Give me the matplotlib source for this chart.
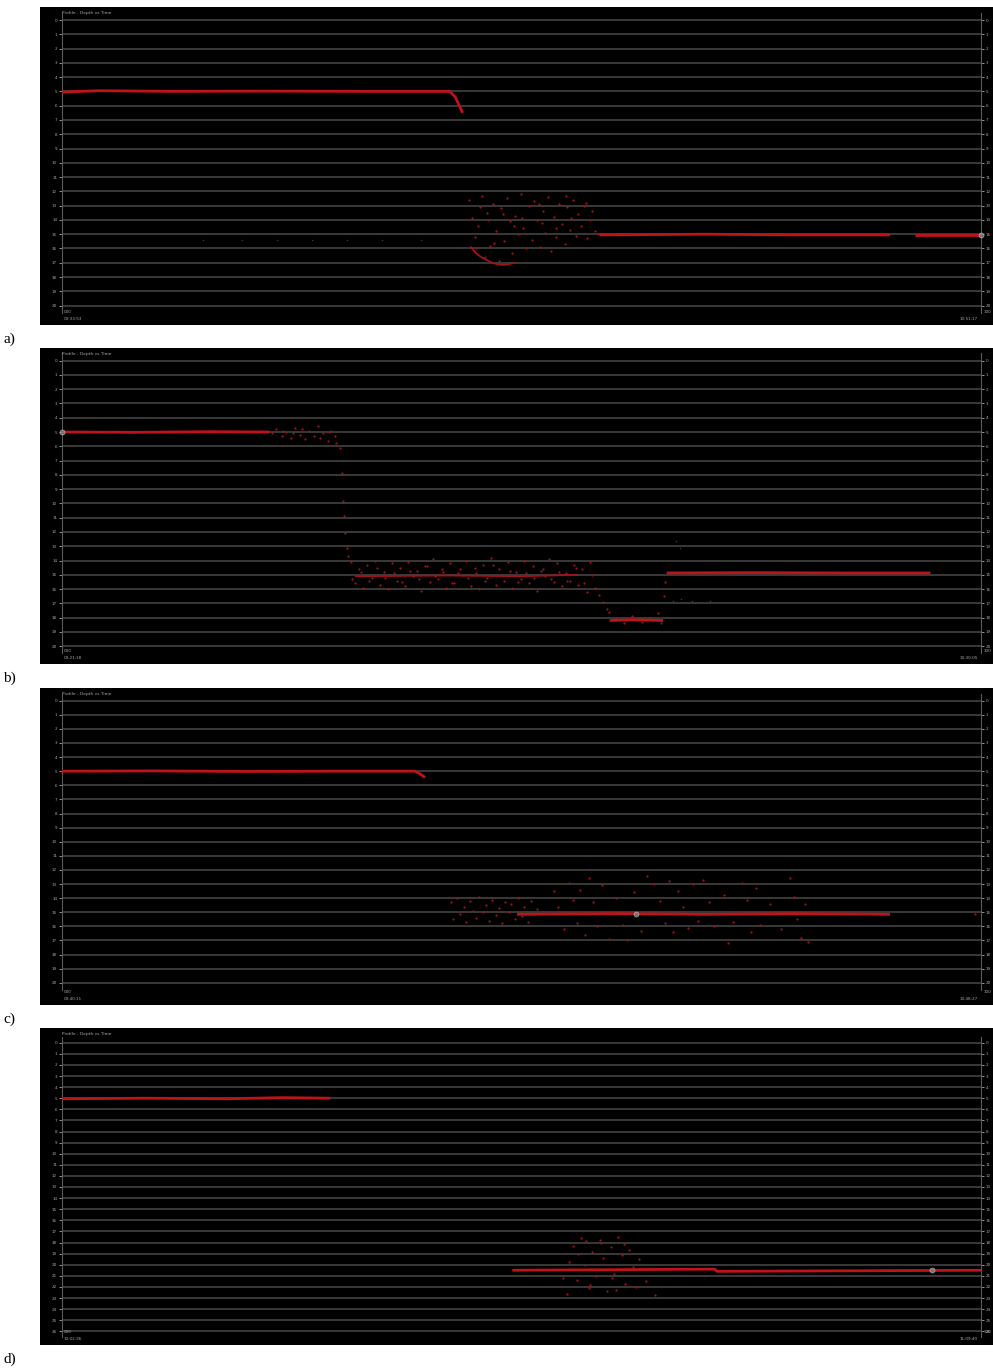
import matplotlib
matplotlib.use("Agg")
import matplotlib.pyplot as plt

W, H = 993, 1370

# ---------------- data (time in % of record, depth in grid units) ----------------
# panel a
a_top_t = [0.0, 4.0, 12.0, 22.0, 33.0, 42.2]
a_top_d = [5.05, 4.95, 5.0, 4.98, 5.0, 5.0]
a_drop_t = [42.2, 42.8, 43.3, 43.6]
a_drop_d = [5.0, 5.4, 6.1, 6.5]
a_streak_t = [44.5, 45.0, 45.6, 46.2, 46.8, 47.4, 48.0, 48.6, 49.2]
a_streak_d = [15.9, 16.3, 16.6, 16.8, 17.0, 17.1, 17.15, 17.1, 17.0]
a_cloud_t = [44.3, 44.6, 44.9, 45.0, 45.3, 45.7, 46.0, 46.2, 46.6, 46.9, 47.2, 47.5,
             47.8, 48.1, 48.4, 48.7, 49.0, 49.3, 49.6, 49.9, 50.2, 50.5, 50.8, 51.1,
             51.4, 51.7, 52.0, 52.3, 52.6, 52.9, 53.2, 53.5, 53.8, 54.1, 54.4, 54.7,
             55.0, 55.3, 55.6, 55.9, 56.2, 56.5, 56.8, 57.1, 57.4, 57.7, 58.0, 58.3,
             46.4, 48.0, 50.0, 51.9, 53.7, 55.4, 47.0, 49.2, 52.2, 54.8, 57.0, 45.5]
a_cloud_d = [12.6, 13.9, 15.2, 16.0, 14.4, 12.3, 16.6, 13.5, 15.8, 12.9, 14.8, 16.9,
             13.2, 15.5, 12.5, 14.1, 16.3, 13.7, 15.0, 12.2, 14.6, 16.0, 13.0, 15.4,
             12.7, 14.0, 15.9, 13.4, 14.9, 12.4, 16.2, 13.8, 15.2, 12.9, 14.3, 15.7,
             13.1, 14.7, 12.6, 15.1, 13.6, 14.4, 13.0, 15.3, 14.0, 13.4, 14.8, 15.0,
             14.0, 13.6, 13.9, 12.9, 14.6, 13.9, 15.6, 14.4, 14.2, 12.3, 12.8, 13.1]
a_low1_t = [58.5, 70.0, 80.0, 90.1]
a_low1_d = [15.05, 15.0, 15.05, 15.05]
a_low2_t = [92.8, 100.0]
a_low2_d = [15.05, 15.05]
a_faint_t = [15.3, 19.6, 23.4, 27.2, 31.0, 34.8, 39.1]
a_faint_d = [15.4, 15.4, 15.4, 15.4, 15.4, 15.4, 15.4]

# panel b
b_top_t = [0.0, 8.0, 16.0, 22.6]
b_top_d = [5.0, 5.02, 4.98, 5.0]
b_surf_t = [22.8, 23.3, 23.9, 24.4, 24.9, 25.4, 25.9, 26.4, 26.9, 27.4, 27.9, 28.4,
            28.9, 29.3, 29.7, 24.1, 26.1, 28.1, 29.0, 25.1]
b_surf_d = [5.1, 4.8, 5.3, 5.0, 5.4, 4.7, 5.2, 5.5, 4.9, 5.3, 4.6, 5.1,
            5.6, 4.9, 5.3, 4.9, 4.8, 5.4, 5.0, 5.1]
b_drop_t = [29.8, 30.2, 30.5, 30.6, 30.7, 30.8, 31.0, 31.1]
b_drop_d = [5.8, 6.1, 7.9, 9.8, 10.9, 12.1, 13.1, 13.7]
b_cloud_t = [31.4, 31.9, 32.3, 32.8, 33.2, 33.7, 34.1, 34.6, 35.0, 35.5, 35.9, 36.4,
             36.8, 37.3, 37.7, 38.2, 38.6, 39.1, 39.5, 40.0, 40.4, 40.9, 41.3, 41.8,
             42.2, 42.7, 43.1, 43.6, 44.0, 44.5, 44.9, 45.4, 45.8, 46.3, 46.7, 47.2,
             47.6, 48.1, 48.5, 49.0, 49.4, 49.9, 50.3, 50.8, 51.2, 51.7, 52.1, 52.6,
             53.0, 53.5, 53.9, 54.4, 54.8, 55.3, 55.7, 56.2, 56.6, 57.1, 57.5, 58.0]
b_cloud_d = [14.1, 15.6, 14.6, 15.9, 14.3, 15.2, 14.0, 15.7, 14.8, 16.0, 14.2, 15.4,
             14.5, 15.8, 14.1, 15.1, 14.7, 16.1, 14.4, 15.5, 13.9, 15.3, 14.6, 15.9,
             14.2, 15.6, 14.9, 15.0, 14.0, 15.8, 14.5, 16.0, 14.3, 15.2, 13.8, 15.7,
             14.6, 15.4, 14.1, 15.9, 14.8, 15.3, 14.0, 15.6, 14.4, 16.1, 14.7, 15.1,
             13.9, 15.5, 14.2, 15.8, 14.9, 15.4, 14.3, 15.7, 14.6, 16.2, 14.1, 15.9]
b_band_t = [31.6, 32.5, 33.4, 34.3, 35.2, 36.1, 37.0, 37.9, 38.8, 39.7, 40.6, 41.5,
            42.4, 43.3, 44.2, 45.1, 46.0, 46.9, 47.8, 48.7, 49.6, 50.5, 51.4, 52.3,
            53.2, 54.1, 55.0, 55.9, 56.8, 57.7]
b_band_d = [15.3, 14.8, 15.4, 14.5, 15.2, 14.9, 15.5, 14.7, 15.3, 14.4, 15.1, 14.8,
            15.6, 14.6, 15.2, 14.9, 15.4, 14.3, 15.0, 14.7, 15.5, 14.9, 15.2, 14.6,
            15.3, 14.8, 15.4, 14.5, 15.6, 15.0]
b_mid_t = [32.0, 42.0, 50.0, 56.0]
b_mid_d = [15.1, 15.05, 15.1, 15.0]
b_deep_t = [58.4, 58.9, 59.3, 59.5, 60.3, 61.2, 62.0, 63.1, 64.0, 64.8, 65.2, 65.5, 65.6]
b_deep_d = [16.4, 16.9, 17.4, 17.6, 18.0, 18.4, 17.9, 18.3, 18.0, 17.7, 18.4, 16.5, 15.5]
b_deepline_t = [59.6, 62.0, 65.4]
b_deepline_d = [18.2, 18.15, 18.2]
b_stray_t = [66.5, 67.4, 68.5, 69.6, 70.5, 66.8, 67.2]
b_stray_d = [16.8, 16.7, 16.8, 16.9, 16.8, 12.6, 13.1]
b_end_t = [65.8, 75.0, 85.0, 94.5]
b_end_d = [14.87, 14.85, 14.87, 14.87]

# panel c
c_top_t = [0.0, 10.0, 20.0, 30.0, 38.4, 39.0, 39.5]
c_top_d = [5.0, 4.98, 5.02, 5.0, 5.0, 5.2, 5.45]
c_cloud_t = [42.3, 42.6, 43.0, 43.3, 43.7, 44.0, 44.4, 44.7, 45.1, 45.4, 45.8, 46.1,
             46.5, 46.8, 47.2, 47.5, 47.9, 48.2, 48.6, 48.9, 49.3, 49.6, 50.0, 50.3,
             50.7, 51.0, 51.4, 51.7,
             53.5, 54.0, 54.6, 55.2, 55.6, 56.0, 56.4, 56.9, 57.3, 57.8, 58.2, 58.8,
             59.5, 60.3, 61.0, 62.2, 63.0, 64.4, 65.1, 65.6, 66.0, 66.5, 67.0, 67.6,
             68.1, 68.7, 69.2, 69.8, 70.4, 71.0, 72.0, 73.0, 74.0, 74.5, 75.0, 75.5,
             76.0, 77.0, 78.2, 79.2, 79.6, 80.0, 80.4, 80.8, 81.2, 61.5, 72.5, 63.7]
c_cloud_d = [14.3, 15.5, 14.0, 15.1, 14.6, 15.7, 14.2, 14.9, 15.4, 13.9, 15.0, 14.5,
             15.6, 14.1, 15.2, 14.7, 15.8, 14.3, 15.0, 14.4, 15.5, 14.0, 15.3, 14.6,
             15.7, 14.2, 15.1, 14.8,
             13.5, 14.6, 16.2, 12.9, 14.1, 15.8, 13.4, 16.6, 12.6, 14.3, 16.0, 13.1,
             16.9, 14.0, 15.9, 13.6, 16.3, 13.0, 14.2, 15.8, 12.8, 16.4, 13.5, 14.6,
             16.1, 13.0, 15.6, 12.7, 14.3, 16.0, 13.8, 15.7, 12.9, 14.1, 16.4, 13.3,
             15.9, 14.4, 16.2, 12.6, 13.9, 15.5, 16.8, 14.4, 17.1, 17.0, 17.2, 12.4]
c_line_t = [49.5, 60.0, 70.0, 80.0, 90.1]
c_line_d = [15.15, 15.1, 15.15, 15.1, 15.15]
c_dot_t = [99.3]
c_dot_d = [15.15]

# panel d
d_top_t = [0.0, 9.0, 18.0, 24.0, 29.2]
d_top_d = [5.05, 5.0, 5.05, 4.95, 5.0]
d_low_t = [49.0, 60.0, 71.0, 71.3, 85.0, 100.0]
d_low_d = [20.5, 20.45, 20.4, 20.6, 20.55, 20.5]
d_cloud_t = [55.2, 55.6, 56.0, 56.5, 56.9, 57.3, 57.7, 58.1, 58.5, 58.9, 59.3, 59.7,
             60.1, 60.5, 60.9, 61.3, 61.7, 62.1, 62.5, 56.2, 57.5, 58.7, 59.9, 61.1,
             57.0, 60.3, 62.8, 63.5, 64.5, 54.5, 55.0]
d_cloud_d = [19.8, 18.3, 21.4, 17.6, 20.0, 22.1, 18.9, 21.0, 17.8, 19.4, 22.4, 18.4,
             20.8, 17.5, 19.1, 21.7, 18.7, 20.2, 22.0, 19.0, 21.8, 18.0, 21.2, 18.1,
             17.9, 22.3, 19.5, 21.5, 22.7, 21.2, 22.6]

# highlighted cursor points (time, depth) per panel
cursor_t = [100.0, 0.0, 62.5, 94.7]
cursor_d = [15.05, 5.0, 15.15, 20.5]

panel_letters = ["a)", "b)", "c)", "d)"]
grid_counts = [20, 20, 20, 26]
start_times = ["09:33:53", "09:21:18", "09:40:11", "10:02:36"]
end_times = ["10:51:17", "10:30:05", "10:48:27", "11:09:40"]

# ---------------- layout in pixels ----------------
panel_top = [7, 348, 688, 1028]
panel_bot = [325, 664, 1005, 1345]
grid_top = [20.0, 360.6, 700.7, 1042.7]
grid_step = [14.28, 14.28, 14.1, 11.1]
x_left, x_right = 62, 981

RED = "#c0121a"
DIM = "#a01318"
GRID = "#3e3e3e"
TXT = "#a8a8a8"

fig = plt.figure(figsize=(W / 100, H / 100), dpi=100)
fig.patch.set_facecolor("white")


def fx(px):
    return px / W


def fy(py):
    return 1 - py / H


series = {
    0: dict(lines=[(a_top_t, a_top_d), (a_drop_t, a_drop_d), (a_low1_t, a_low1_d), (a_low2_t, a_low2_d)],
            thin=[(a_streak_t, a_streak_d)],
            dots=[(a_cloud_t, a_cloud_d)],
            faint=[(a_faint_t, a_faint_d)]),
    1: dict(lines=[(b_top_t, b_top_d), (b_deepline_t, b_deepline_d), (b_end_t, b_end_d)],
            thin=[(b_mid_t, b_mid_d)],
            dots=[(b_surf_t, b_surf_d), (b_drop_t, b_drop_d), (b_cloud_t, b_cloud_d),
                  (b_band_t, b_band_d), (b_deep_t, b_deep_d)],
            faint=[(b_stray_t, b_stray_d)]),
    2: dict(lines=[(c_top_t, c_top_d), (c_line_t, c_line_d)],
            thin=[],
            dots=[(c_cloud_t, c_cloud_d), (c_dot_t, c_dot_d)],
            faint=[]),
    3: dict(lines=[(d_top_t, d_top_d), (d_low_t, d_low_d)],
            thin=[],
            dots=[(d_cloud_t, d_cloud_d)],
            faint=[]),
}

for i in range(4):
    # black panel background
    bg = fig.add_axes([fx(40), fy(panel_bot[i]), fx(W - 40), (panel_bot[i] - panel_top[i]) / H])
    bg.set_facecolor("black")
    bg.set_xticks([])
    bg.set_yticks([])
    for s in bg.spines.values():
        s.set_visible(False)

    n = grid_counts[i]
    step = grid_step[i]
    top_px = grid_top[i] - 0.5 * step
    bot_px = grid_top[i] + (n + 0.5) * step
    ax = fig.add_axes([fx(x_left), fy(bot_px), fx(x_right - x_left), (bot_px - top_px) / H])
    ax.set_facecolor("none")
    ax.set_xlim(0, 100)
    ax.set_ylim(n + 0.5, -0.5)
    ax.set_yticks(range(n + 1))
    ax.set_yticklabels([str(v) for v in range(n + 1)])
    ax.set_xticks([])
    ax.grid(axis="y", color=GRID, linewidth=1.3)
    ax.set_axisbelow(True)
    ax.tick_params(axis="y", which="both", left=True, right=True, labelleft=True, labelright=True,
                   labelsize=3, colors=TXT, length=2, width=0.6, pad=1.5)
    for side in ("top", "bottom"):
        ax.spines[side].set_visible(False)
    for side in ("left", "right"):
        ax.spines[side].set_color("#5a5a5a")
        ax.spines[side].set_linewidth(0.8)

    sd = series[i]
    for t, d in sd["faint"]:
        ax.plot(t, d, linestyle="none", marker="o", markersize=1.1, color="#553030",
                markeredgewidth=0, zorder=3)
    for t, d in sd["dots"]:
        ax.plot(t, d, linestyle="none", marker="o", markersize=1.6, color=DIM,
                markeredgewidth=0, zorder=3)
    for t, d in sd["thin"]:
        ax.plot(t, d, color=DIM, linewidth=1.3, zorder=4)
    for t, d in sd["lines"]:
        ax.plot(t, d, color=RED, linewidth=2.0, solid_capstyle="butt", zorder=5)
    ax.plot(cursor_t[i], cursor_d[i], marker="o", markersize=3.6, color="#8a8a8a",
            markeredgecolor="#c8c8c8", markeredgewidth=0.5, alpha=0.75, zorder=6, clip_on=False)

    # header and time stamps
    fig.text(fx(62), fy(panel_top[i] + 6), "Profile - Depth vs Time", fontsize=3.2,
             color=TXT, va="center", ha="left")
    fig.text(fx(64), fy(panel_bot[i] - 13), "000", fontsize=3, color=TXT, va="center", ha="left")
    fig.text(fx(64), fy(panel_bot[i] - 6), start_times[i], fontsize=3, color=TXT, va="center", ha="left")
    fig.text(fx(984), fy(panel_bot[i] - 13), "100", fontsize=3, color=TXT, va="center", ha="left")
    fig.text(fx(978), fy(panel_bot[i] - 6), end_times[i], fontsize=3, color=TXT, va="center", ha="right")

    # panel letter
    fig.text(fx(3), fy(panel_bot[i] + 14), panel_letters[i], fontsize=11,
             family="Liberation Serif", color="black", va="center", ha="left")

fig.savefig("out.png", dpi=100, facecolor="white")
